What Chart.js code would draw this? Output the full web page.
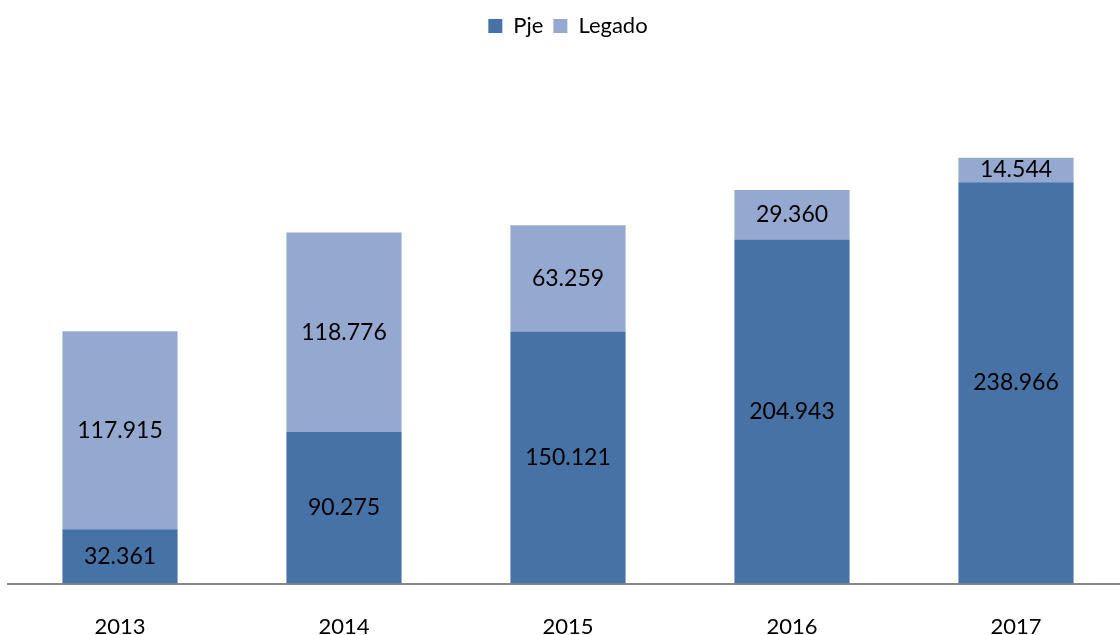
<!DOCTYPE html>
<html>
<head>
<meta charset="utf-8">
<script src="https://cdn.jsdelivr.net/npm/chart.js@4.4.0/dist/chart.umd.min.js"></script>
<style>
  html, body { margin: 0; padding: 0; background: #fff; overflow: hidden; }
  .chart-wrapper { position: relative; width: 1120px; height: 635px; overflow: hidden; }
</style>
</head>
<body>
<div class="chart-wrapper">
  <canvas id="chart" width="1128" height="670"></canvas>
</div>
<script>
const years = ["2013", "2014", "2015", "2016", "2017"];
const pje = [32.361, 90.275, 150.121, 204.943, 238.966];
const legado = [117.915, 118.776, 63.259, 29.36, 14.544];

const FONT = "Lato, 'Liberation Sans', sans-serif";

const fmt = (v) => v.toFixed(3);

// draws the value in the middle of each segment
const segmentLabels = {
  id: "segmentLabels",
  afterDatasetsDraw(chart) {
    const ctx = chart.ctx;
    ctx.save();
    ctx.font = "23px " + FONT;
    ctx.fillStyle = "#000";
    ctx.textAlign = "center";
    ctx.textBaseline = "middle";
    chart.data.datasets.forEach((ds, i) => {
      chart.getDatasetMeta(i).data.forEach((bar, j) => {
        const mid = (bar.y + bar.base) / 2;
        ctx.fillText(fmt(ds.data[j]), bar.x, mid);
      });
    });
    ctx.restore();
  },
};

const ctx = document.getElementById("chart").getContext("2d");
new Chart(ctx, {
  type: "bar",
  data: {
    labels: years,
    datasets: [
      {
        label: "Pje",
        data: pje,
        backgroundColor: "#4672A6",
        barPercentage: 0.514,
        categoryPercentage: 1,
      },
      {
        label: "Legado",
        data: legado,
        backgroundColor: "#95A9D0",
        barPercentage: 0.514,
        categoryPercentage: 1,
      },
    ],
  },
  options: {
    responsive: false,
    animation: false,
    maintainAspectRatio: false,
    layout: { padding: { top: 5, left: 8, right: 0, bottom: 0 } },
    plugins: {
      legend: {
        position: "top",
        labels: {
          font: { family: FONT, size: 22 },
          color: "#000",
          boxWidth: 14,
          boxHeight: 14,
          padding: 10,
        },
      },
      tooltip: { enabled: false },
    },
    scales: {
      x: {
        stacked: true,
        grid: { display: false, drawTicks: false },
        border: { display: true, color: "#888", width: 2 },
        ticks: {
          font: { family: FONT, size: 22 },
          color: "#000",
          padding: 30,
        },
      },
      y: {
        stacked: true,
        display: false,
        min: 0,
        max: 319.5,
      },
    },
  },
  plugins: [segmentLabels],
});
</script>
</body>
</html>
